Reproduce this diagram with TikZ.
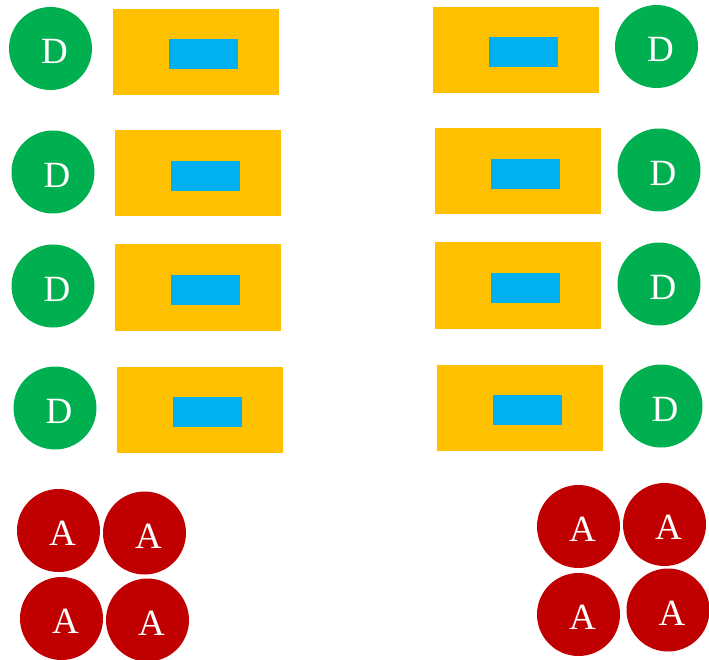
\documentclass[tikz,border=0pt]{standalone}
\usepackage{fontspec}
\setmainfont{Liberation Serif}
\definecolor{dgreen}{HTML}{00B050}
\definecolor{ayellow}{HTML}{FFC000}
\definecolor{ablue}{HTML}{00B0F0}
\definecolor{ared}{HTML}{C00000}
\begin{document}
\begin{tikzpicture}[x=1pt,y=-1pt,
  lbl/.style={text=white,font=\fontsize{37}{37}\selectfont,inner sep=0pt,xshift=4pt,yshift=-3pt},
  dcirc/.style={circle,fill=dgreen,minimum size=83pt,inner sep=0pt,label={[lbl]center:D}},
  acirc/.style={circle,fill=ared,minimum size=83pt,inner sep=0pt,label={[lbl]center:A}},
  desk/.style={rectangle,fill=ayellow,minimum width=166pt,minimum height=86pt,inner sep=0pt},
  screen/.style={rectangle,fill=ablue,minimum width=69pt,minimum height=30pt,inner sep=0pt}]
\useasboundingbox (0,0) rectangle (709,660);
% left column
\node[dcirc] (dl1) at (50.5,48.5) {};
\node[desk] (yl1) at (196,52) {};
\node[screen] (bl1) at (203.5,54.5) {};
\node[dcirc] (dl2) at (53,172) {};
\node[desk] (yl2) at (198,173.5) {};
\node[screen] (bl2) at (205.5,176) {};
\node[dcirc] (dl3) at (53,286) {};
\node[desk] (yl3) at (198,287.5) {};
\node[screen] (bl3) at (205.5,290) {};
\node[dcirc] (dl4) at (55,408) {};
\node[desk] (yl4) at (200,410) {};
\node[screen] (bl4) at (207.5,412) {};
% right column
\node[desk] (yr1) at (516,50) {};
\node[screen] (br1) at (523.5,52.5) {};
\node[dcirc] (dr1) at (656.5,46.5) {};
\node[desk] (yr2) at (518,171.5) {};
\node[screen] (br2) at (525.5,174) {};
\node[dcirc] (dr2) at (659,170) {};
\node[desk] (yr3) at (518,285.5) {};
\node[screen] (br3) at (525.5,288) {};
\node[dcirc] (dr3) at (659,284) {};
\node[desk] (yr4) at (520,408) {};
\node[screen] (br4) at (527.5,410) {};
\node[dcirc] (dr4) at (661,406) {};
% A groups
\node[acirc] (al1) at (58.5,530.5) {};
\node[acirc] (al2) at (144.5,533) {};
\node[acirc] (al3) at (61.5,618.5) {};
\node[acirc] (al4) at (147.5,620) {};
\node[acirc] (ar1) at (578.5,526.5) {};
\node[acirc] (ar2) at (664.5,524.5) {};
\node[acirc] (ar3) at (578.5,614.5) {};
\node[acirc] (ar4) at (668,610) {};
\end{tikzpicture}
\end{document}
